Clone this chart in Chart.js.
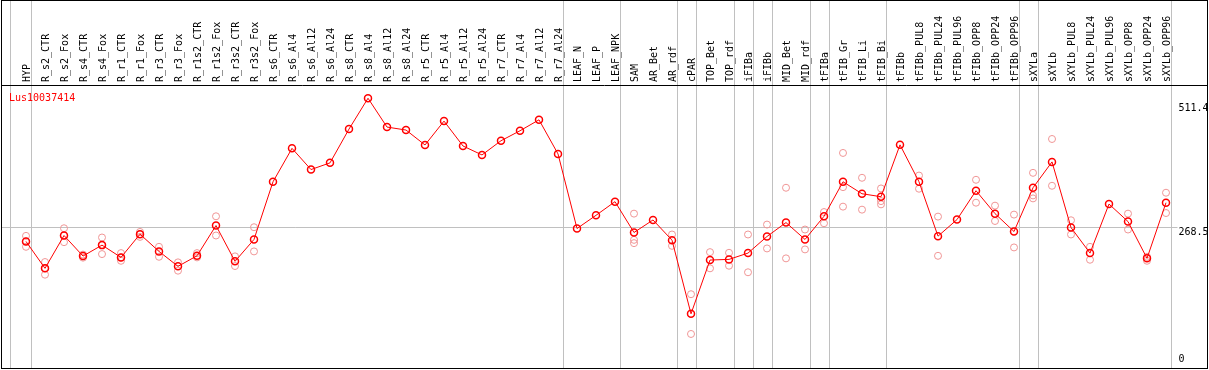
<!DOCTYPE html>
<html>
<head>
<meta charset="utf-8">
<script src="https://cdn.jsdelivr.net/npm/chart.js@4.4.0/dist/chart.umd.min.js"></script>
<style>
  html, body { margin: 0; padding: 0; background: #fff; }
  #wrap { position: relative; width: 1209px; height: 370px; }
</style>
</head>
<body>
<div id="wrap"><canvas id="chart"></canvas></div>
<script>
// gene shown in the panel
const geneName = 'Lus10037414';

const samples = [
  'HYP',
  'R_s2_CTR', 'R_s2_Fox', 'R_s4_CTR', 'R_s4_Fox', 'R_r1_CTR', 'R_r1_Fox', 'R_r3_CTR', 'R_r3_Fox',
  'R_r1s2_CTR', 'R_r1s2_Fox', 'R_r3s2_CTR', 'R_r3s2_Fox',
  'R_s6_CTR', 'R_s6_Al4', 'R_s6_Al12', 'R_s6_Al24', 'R_s8_CTR', 'R_s8_Al4', 'R_s8_Al12', 'R_s8_Al24',
  'R_r5_CTR', 'R_r5_Al4', 'R_r5_Al12', 'R_r5_Al24', 'R_r7_CTR', 'R_r7_Al4', 'R_r7_Al12', 'R_r7_Al24',
  'LEAF_N', 'LEAF_P', 'LEAF_NPK',
  'SAM', 'AR_Bet', 'AR_rdf',
  'cPAR',
  'TOP_Bet', 'TOP_rdf',
  'iFIBa',
  'iFIBb',
  'MID_Bet', 'MID_rdf',
  'tFIBa',
  'tFIB_Gr', 'tFIB_Li', 'tFIB_Bi',
  'tFIBb', 'tFIBb_PUL8', 'tFIBb_PUL24', 'tFIBb_PUL96', 'tFIBb_OPP8', 'tFIBb_OPP24', 'tFIBb_OPP96',
  'sXYLa',
  'sXYLb', 'sXYLb_PUL8', 'sXYLb_PUL24', 'sXYLb_PUL96', 'sXYLb_OPP8', 'sXYLb_OPP24', 'sXYLb_OPP96'
];

// mean expression per sample
const means = [
  240.7,
  188.1, 252.3, 212.1, 233.5, 209.5, 254.9, 221.2, 192.0,
  212.6, 271.8, 201.8, 244.6,
  357.4, 422.8, 381.3, 394.4, 460.5, 520.8, 464.4, 458.6,
  429.4, 476.1, 427.4, 409.9, 437.7, 457.2, 478.6, 411.9,
  266.0, 291.8, 318.5,
  258.2, 282.7, 243.2,
  99.2,
  204.3, 205.6,
  217.9,
  250.4,
  277.6, 244.6,
  289.9,
  357.4, 334.0, 328.2,
  429.6, 357.4, 251.0, 283.5, 339.9, 295.1, 260.1,
  345.7,
  396.3, 267.9, 217.9, 313.8, 279.6, 207.6, 316.5
];

// single replicates (null = not shown)
const rep1 = [
  251.6,
  200.4, 266.5, 215.0, 248.4, 217.9, 259.3, 230.2, 199.8,
  217.9, 289.9, 211.5, 268.5,
  null, null, null, null, null, null, null, null,
  null, null, null, null, null, null, null, null,
  null, null, null,
  295.1, null, 254.3,
  137.5,
  219.8, 218.5,
  254.3,
  273.7,
  345.7, 264.0,
  298.2,
  413.8, 365.2, 344.4,
  null, 369.6, 289.3, null, 361.3, 310.7, 293.2,
  374.9,
  441.1, 282.1, 230.2, null, 295.1, 210.7, 336.0
];
const rep2 = [
  230.2,
  175.7, 239.3, 209.0, 216.0, 202.9, 249.6, 210.7, 183.5,
  209.5, 252.3, 192.6, 221.2,
  null, null, null, null, null, null, null, null,
  null, null, null, null, null, null, null, null,
  null, null, null,
  243.8, null, 232.1,
  59.7,
  188.1, 193.2,
  180.4,
  227.0,
  207.6, 225.1,
  276.3,
  346.9, 302.9, 319.6,
  null, 343.8, 212.6, null, 316.5, 280.7, 229.0,
  330.7,
  349.6, 254.3, 204.9, null, 264.0, 202.9, 296.3
];
const rep3 = [
  240.7,
  188.1, 252.3, null, 233.5, 209.5, 254.9, null, null,
  null, null, null, null,
  null, null, null, null, null, null, null, null,
  null, null, null, null, null, null, null, null,
  null, null, null,
  237.4, null, null,
  null,
  null, null,
  null,
  null,
  null, null,
  null,
  308.8, null, 313.2,
  null, null, null, null, null, null, null,
  324.9,
  null, null, null, null, null, null, null
];

const yTicks = [0, 268.5, 511.4];
const yMax = 546.7;

// index of the last sample in each tissue group
const groupEnds = [0, 28, 31, 34, 35, 37, 38, 39, 41, 42, 45, 52, 53, 60];

const monoFont = { family: 'DejaVu Sans Mono', size: 10, lineHeight: 1.0 };

const framePlugin = {
  id: 'frame',
  beforeDatasetsDraw(chart) {
    const { ctx, scales: { x, y } } = chart;
    const W = chart.width, H = chart.height;
    ctx.save();
    ctx.lineWidth = 1;
    ctx.strokeStyle = '#c0c0c0';
    const seps = [x.getPixelForValue(0) - 16].concat(groupEnds.map(i => x.getPixelForValue(i) + 4.5));
    seps.forEach(px => {
      const p = Math.round(px) + 0.5;
      ctx.beginPath();
      ctx.moveTo(p, 0);
      ctx.lineTo(p, H - 2);
      ctx.stroke();
    });
    const py = Math.round(y.getPixelForValue(yTicks[1])) + 0.5;
    ctx.beginPath();
    ctx.moveTo(1, py);
    ctx.lineTo(x.right + 2, py);
    ctx.stroke();

    ctx.strokeStyle = '#000';
    ctx.strokeRect(1.5, 0.5, W - 3, H - 2);
    const ty = Math.round(chart.chartArea.top) + 0.5;
    ctx.beginPath();
    ctx.moveTo(1, ty);
    ctx.lineTo(W - 1, ty);
    ctx.stroke();
    ctx.restore();
  },
  afterDraw(chart) {
    const { ctx, chartArea } = chart;
    ctx.save();
    ctx.fillStyle = '#ff0000';
    ctx.font = '10px "DejaVu Sans Mono"';
    ctx.textBaseline = 'alphabetic';
    ctx.fillText(geneName, chartArea.left - 7.5, chartArea.top + 16);
    ctx.restore();
  }
};

const repStyle = {
  type: 'line',
  showLine: false,
  pointRadius: 3.5,
  pointBorderWidth: 1,
  pointBorderColor: '#f09696',
  pointBackgroundColor: 'rgba(0,0,0,0)'
};

new Chart(document.getElementById('chart'), {
  type: 'line',
  data: {
    labels: samples,
    datasets: [
      {
        data: means,
        borderColor: '#ff0000',
        borderWidth: 1,
        tension: 0,
        pointRadius: 3.5,
        pointBorderWidth: 1.5,
        pointBorderColor: '#ff0000',
        pointBackgroundColor: 'rgba(0,0,0,0)'
      },
      Object.assign({ data: rep1 }, repStyle),
      Object.assign({ data: rep2 }, repStyle),
      Object.assign({ data: rep3 }, repStyle)
    ]
  },
  options: {
    responsive: true,
    maintainAspectRatio: false,
    animation: false,
    layout: { padding: { left: 16.5, right: 0, top: 0, bottom: 4 } },
    plugins: { legend: { display: false }, tooltip: { enabled: false } },
    scales: {
      x: {
        position: 'top',
        offset: true,
        grid: { display: false, drawTicks: false },
        border: { display: false },
        ticks: {
          autoSkip: false,
          maxRotation: 90,
          minRotation: 90,
          padding: 3,
          labelOffset: 11,
          color: '#000',
          font: monoFont
        },
        afterFit: (scale) => {
          scale.height = 85;
          scale.paddingLeft = 0;
          scale.paddingRight = 0;
        }
      },
      y: {
        position: 'right',
        min: 0,
        max: yMax,
        grid: { display: false, drawTicks: false },
        border: { display: false },
        afterBuildTicks: (scale) => { scale.ticks = yTicks.map(v => ({ value: v })); },
        afterFit: (scale) => {
          scale.width = 33.5;
          scale.paddingTop = 0;
          scale.paddingBottom = 0;
        },
        ticks: {
          padding: 3,
          color: '#000',
          font: monoFont,
          callback: (v) => v === 0 ? ['0', ''] : ['', String(v)]
        }
      }
    }
  },
  plugins: [framePlugin]
});
</script>
</body>
</html>
